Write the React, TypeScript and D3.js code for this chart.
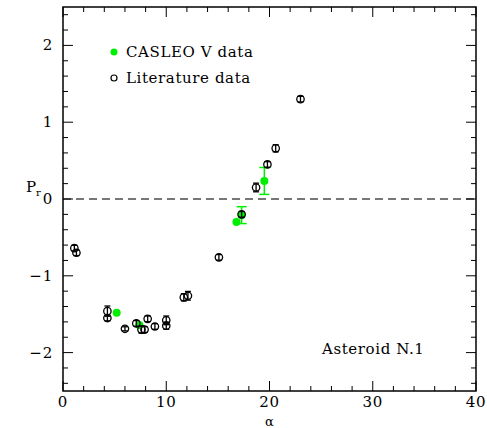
import * as d3 from "d3";

// literature: phase angle, Pr, error
const litAlpha = [1.1, 1.3, 4.3, 4.3, 6.0, 7.1, 7.6, 7.9, 8.2, 8.9, 10.0, 10.0, 11.7, 12.1, 15.1, 17.3, 18.7, 19.8, 20.6, 23.0];
const litPr = [-0.64, -0.7, -1.46, -1.55, -1.69, -1.62, -1.7, -1.7, -1.56, -1.66, -1.58, -1.65, -1.28, -1.26, -0.76, -0.2, 0.15, 0.45, 0.66, 1.3];
const litErr = [0.03, 0.03, 0.06, 0.03, 0.02, 0.03, 0.04, 0.03, 0.03, 0.03, 0.05, 0.04, 0.04, 0.05, 0.03, 0.03, 0.05, 0.03, 0.04, 0.03];

// CASLEO V band
const casAlpha = [5.2, 7.4, 16.8, 17.3, 19.5];
const casPr = [-1.48, -1.64, -0.3, -0.21, 0.235];
const casErr = [0.02, 0.02, 0.02, 0.11, 0.175];

const xMajor = [0, 10, 20, 30, 40];
const yMajor = [2, 1, 0, -1, -2];

const width = 487;
const height = 428;
const ml = 63, mr = 11, mt = 7, mb = 37;
const font = "DejaVu Serif";

export default function App() {
  const x = d3.scaleLinear([0, 40], [ml, width - mr]);
  const y = d3.scaleLinear([-2.5, 2.5], [height - mb, mt]);
  const [x0, x1] = x.range();
  const [y0, y1] = [y(2.5), y(-2.5)];
  const xMinor = x.ticks(20);
  const yMinor = y.ticks(25);
  const lit = litAlpha.map((a, i) => ({ a, p: litPr[i], e: litErr[i] }));
  const cas = casAlpha.map((a, i) => ({ a, p: casPr[i], e: casErr[i] }));
  const green = "#00ee00";

  return (
    <svg width={width} height={height} style={{ position: "absolute", left: 0, top: 0 }} fontFamily={font}>
      <rect x={0} y={0} width={width} height={height} fill="white" />
      {/* zero line */}
      <line x1={x0} x2={x1} y1={y(0)} y2={y(0)} stroke="#777" strokeWidth={2} strokeDasharray="8,5" />
      {/* ticks */}
      <g stroke="black" strokeWidth={1}>
        {xMinor.map((t) => {
          const big = xMajor.includes(t);
          const l = big ? 10 : 5;
          return (
            <g key={"x" + t}>
              <line x1={x(t)} x2={x(t)} y1={y1} y2={y1 - l} />
              <line x1={x(t)} x2={x(t)} y1={y0} y2={y0 + l} />
            </g>
          );
        })}
        {yMinor.map((t) => {
          const big = yMajor.some((m) => Math.abs(m - t) < 1e-6);
          const l = big ? 10 : 5;
          return (
            <g key={"y" + t}>
              <line x1={x0} x2={x0 + l} y1={y(t)} y2={y(t)} />
              <line x1={x1} x2={x1 - l} y1={y(t)} y2={y(t)} />
            </g>
          );
        })}
      </g>
      <rect x={x0} y={y0} width={x1 - x0} height={y1 - y0} fill="none" stroke="black" strokeWidth={1.5} />
      {/* tick labels */}
      <g fontSize={15} fill="black" letterSpacing={0.8}>
        {xMajor.map((t) => (
          <text key={t} x={x(t)} y={y1 + 16} textAnchor="middle">{t}</text>
        ))}
        {yMajor.map((t) => (
          <text key={t} x={x0 - 10} y={y(t) + 5} textAnchor="end">{t < 0 ? "\u2212" + Math.abs(t) : t}</text>
        ))}
      </g>
      <text x={(x0 + x1) / 2} y={y1 + 35} textAnchor="middle" fontSize={13}>α</text>
      <text x={26} y={192} fontSize={15}>P<tspan fontSize={10} dy={4}>r</tspan></text>
      {/* CASLEO points */}
      <g>
        {cas.map((d, i) => (
          <g key={i} stroke={green} strokeWidth={1.5}>
            {d.e > 0.04 && (
              <>
                <line x1={x(d.a)} x2={x(d.a)} y1={y(d.p - d.e)} y2={y(d.p + d.e)} />
                <line x1={x(d.a) - 5} x2={x(d.a) + 5} y1={y(d.p - d.e)} y2={y(d.p - d.e)} />
                <line x1={x(d.a) - 5} x2={x(d.a) + 5} y1={y(d.p + d.e)} y2={y(d.p + d.e)} />
              </>
            )}
            <circle cx={x(d.a)} cy={y(d.p)} r={4} fill={green} stroke="none" />
          </g>
        ))}
      </g>
      {/* literature points */}
      <g stroke="black" strokeWidth={1.3} fill="none">
        {lit.map((d, i) => (
          <g key={i}>
            <line x1={x(d.a)} x2={x(d.a)} y1={y(d.p - d.e) + 0.5} y2={y(d.p + d.e) - 0.5} />
            <line x1={x(d.a) - 3} x2={x(d.a) + 3} y1={y(d.p - d.e) + 0.5} y2={y(d.p - d.e) + 0.5} />
            <line x1={x(d.a) - 3} x2={x(d.a) + 3} y1={y(d.p + d.e) - 0.5} y2={y(d.p + d.e) - 0.5} />
            <circle cx={x(d.a)} cy={y(d.p)} r={3.7} />
          </g>
        ))}
      </g>
      {/* legend */}
      <g fontSize={15} letterSpacing={0.6}>
        <circle cx={114} cy={52} r={3.5} fill={green} />
        <text x={126} y={57}>CASLEO V data</text>
        <circle cx={114} cy={78} r={3} fill="none" stroke="black" strokeWidth={1.2} />
        <text x={126} y={83}>Literature data</text>
        <text x={322} y={354}>Asteroid N.1</text>
      </g>
    </svg>
  );
}
